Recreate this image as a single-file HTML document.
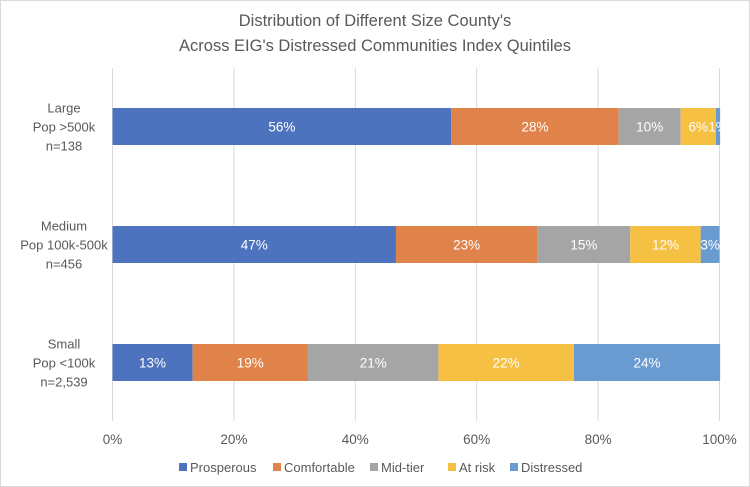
<!DOCTYPE html>
<html><head><meta charset="utf-8"><style>
body{margin:0;background:#fff;}
svg{display:block;font-family:"Liberation Sans Narrow","Liberation Sans",sans-serif;}
</style></head><body>
<svg id="c" width="750" height="487">
<rect x="0.5" y="0.5" width="749" height="486" fill="#fff" stroke="#d9d9d9"/>
<text x="375" y="26" text-anchor="middle" font-size="16.5" fill="#595959">Distribution of Different Size County's</text>
<text x="375" y="51" text-anchor="middle" font-size="16.5" fill="#595959">Across EIG's Distressed Communities Index Quintiles</text>
<g id="grid"></g><g id="bars"></g><g id="labels"></g><g id="legend"></g>
</svg>
<script>
const categories=[["Large","Pop >500k","n=138"],["Medium","Pop 100k-500k","n=456"],["Small","Pop <100k","n=2,539"]];
const seriesNames=["Prosperous","Comfortable","Mid-tier","At risk","Distressed"];
const prosperous=[55.8,46.7,13.2];
const comfortable=[27.6,23.3,19.0];
const midtier=[10.2,15.3,21.5];
const atrisk=[5.8,11.6,22.3];
const distressed=[0.7,3.1,24.1];
const printed=[["56%","28%","10%","6%","1%"],["47%","23%","15%","12%","3%"],["13%","19%","21%","22%","24%"]];
const ticks=[0,20,40,60,80,100];
const colorsReal=["#4e73be","#e0834a","#a5a5a5","#f6c143","#6a9bd0"];
const NS="http://www.w3.org/2000/svg";
const x0=112.5,x1=719.5,yTop=68,yBot=421;
const xs=v=>x0+(x1-x0)*v/100;
const bandY=i=>108+i*118;const bh=37;
function el(t,a,p){const e=document.createElementNS(NS,t);for(const k in a)e.setAttribute(k,a[k]);document.getElementById(p).appendChild(e);return e;}
ticks.forEach(t=>{
 const l=el('line',{x1:xs(t),x2:xs(t),y1:yTop,y2:yBot,stroke:'#d9d9d9'},'grid');
 
 
 const tx=el('text',{x:xs(t),y:444,'text-anchor':'middle','font-size':13.5,fill:'#595959'},'grid');
 tx.textContent=t+'%';
 
 
});
const series=[prosperous,comfortable,midtier,atrisk,distressed];
categories.forEach((c,i)=>{
 let acc=0;
 series.forEach((s,j)=>{
  const v=s[i];
  const r=el('rect',{x:xs(acc),y:bandY(i),width:xs(acc+v)-xs(acc),height:bh,fill:colorsReal[j]},'bars');
  
  
  const t=el('text',{x:xs(acc+v/2),y:bandY(i)+bh/2+5,'text-anchor':'middle','font-size':13.5,fill:'#fff'},'bars');
  t.textContent=printed[i][j];
  
  
  acc+=v;
 });
 c.forEach((line,k)=>{
  const t=el('text',{x:64,y:bandY(i)+bh/2-14+k*19,'text-anchor':'middle','font-size':13,fill:'#595959'},'labels');
  t.textContent=line;
  
  
 });
});
const lx=[179,273,370,448,510];
seriesNames.forEach((n,j)=>{
 const r=el('rect',{x:lx[j],y:463,width:8,height:8,fill:colorsReal[j]},'legend');
 
 
 const t=el('text',{x:lx[j]+11,y:472,'font-size':13,fill:'#595959'},'legend');
 t.textContent=n;
 
 
});
</script>
</body></html>
